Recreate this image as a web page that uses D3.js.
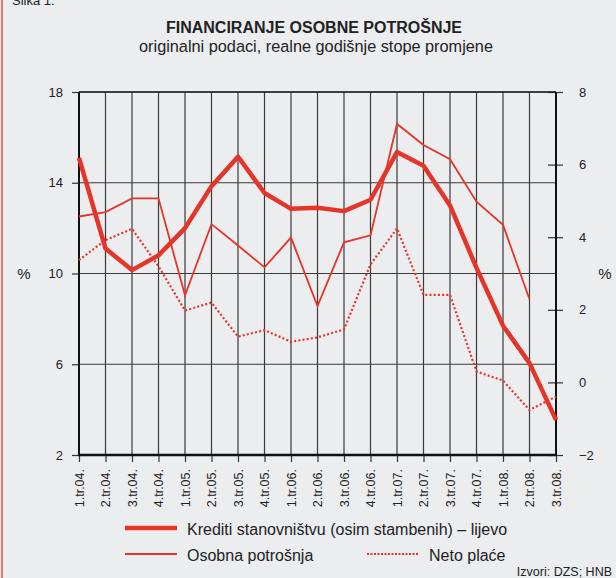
<!DOCTYPE html>
<html>
<head>
<meta charset="utf-8">
<title>Financiranje osobne potrošnje</title>
<style>
  body { margin: 0; background: #ecedef; }
  svg { display: block; font-family: "Liberation Sans", Arial, sans-serif; }
  .grid line { stroke: #3a3a3a; stroke-width: 1.2px; }
  .axis text { font-size: 13px; fill: #222; }
  .axis.xa text { font-size: 12.5px; }
  .axis path { display: none; }
  .axis line { stroke: #333; stroke-width: 1.2px; }
</style>
</head>
<body>
<svg width="616" height="578"></svg>
<script src="https://d3js.org/d3.v7.min.js"></script>
<script>

// kvartali
var categories = ["1.tr.04.", "2.tr.04.", "3.tr.04.", "4.tr.04.",
    "1.tr.05.", "2.tr.05.", "3.tr.05.", "4.tr.05.",
    "1.tr.06.", "2.tr.06.", "3.tr.06.", "4.tr.06.",
    "1.tr.07.", "2.tr.07.", "3.tr.07.", "4.tr.07.",
    "1.tr.08.", "2.tr.08.", "3.tr.08."];

// lijeva os
var krediti = [15.1, 11.1, 10.15, 10.8, 12.0, 13.85, 15.15, 13.55, 12.85, 12.9,
    12.75, 13.25, 15.35, 14.75, 13.0, 10.25, 7.7, 6.05, 3.55];

// desna os
var potrosnja = [4.57, 4.69, 5.07, 5.07, 2.4, 4.36, 3.77, 3.17, 3.99, 2.1,
    3.86, 4.05, 7.12, 6.54, 6.15, 4.98, 4.34, 2.29, null];
var place = [3.37, 3.92, 4.23, 3.2, 1.98, 2.2, 1.26, 1.44, 1.12, 1.24,
    1.46, 3.25, 4.24, 2.41, 2.41, 0.3, 0.05, -0.76, -0.39];

var leftTicks = [2, 6, 10, 14, 18];
var rightTicks = [-2, 0, 2, 4, 6, 8];

var red = "#e5352a";

var svg = d3.select("svg");
var pLeft = 79, pRight = 556, pTop = 92, pBottom = 455;

var x = d3.scalePoint().domain(categories).range([pLeft, pRight]);
var yL = d3.scaleLinear().domain([2, 18]).range([pBottom, pTop]);
var yR = d3.scaleLinear().domain([-2, 8]).range([pBottom, pTop]);

// rubovi
svg.append("line").attr("x1", 2).attr("x2", 2).attr("y1", 0).attr("y2", 578)
    .attr("stroke", "#e0503f").attr("stroke-width", 1.5);

svg.append("text").attr("x", 12).attr("y", 5).attr("font-size", 13).attr("fill", "#222")
    .text("Slika 1.");

// naslov
svg.append("text").attr("x", 314).attr("y", 33).attr("text-anchor", "middle")
    .attr("font-size", 16).attr("font-weight", "bold").attr("fill", "#222")
    .text("FINANCIRANJE OSOBNE POTROŠNJE");
svg.append("text").attr("x", 316).attr("y", 52).attr("text-anchor", "middle")
    .attr("font-size", 16.3).attr("fill", "#222")
    .text("originalni podaci, realne godišnje stope promjene");

// mreža
var grid = svg.append("g").attr("class", "grid");
grid.selectAll(".v").data(categories).enter().append("line")
    .attr("x1", function(d) { return x(d); }).attr("x2", function(d) { return x(d); })
    .attr("y1", pTop).attr("y2", pBottom);
grid.selectAll(".h").data(leftTicks).enter().append("line")
    .attr("x1", pLeft).attr("x2", pRight)
    .attr("y1", function(d) { return yL(d); }).attr("y2", function(d) { return yL(d); });

// osi
svg.append("g").attr("class", "axis")
    .attr("transform", "translate(" + pLeft + ",0)")
    .call(d3.axisLeft(yL).tickValues(leftTicks).tickSize(7).tickPadding(9));

svg.append("g").attr("class", "axis")
    .attr("transform", "translate(" + pRight + ",0)")
    .call(d3.axisRight(yR).tickValues(rightTicks).tickSize(7).tickPadding(16)
        .tickFormat(function(d) { return d < 0 ? "\u2212" + Math.abs(d) : d; }))
    .call(function(g) {
        g.selectAll(".tick line").attr("x1", -8);
    });

var xa = svg.append("g").attr("class", "axis xa")
    .attr("transform", "translate(0," + pBottom + ")")
    .call(d3.axisBottom(x).tickSize(7).tickPadding(4));
xa.selectAll("text")
    .attr("transform", "rotate(-90)")
    .attr("text-anchor", "end")
    .attr("x", -14).attr("y", 0).attr("dy", "0.35em");

// okvir
svg.append("line").attr("x1", pLeft).attr("x2", pRight).attr("y1", pTop).attr("y2", pTop)
    .attr("stroke", "#222").attr("stroke-width", 1.5);
svg.append("line").attr("x1", pLeft).attr("x2", pLeft).attr("y1", pTop).attr("y2", pBottom)
    .attr("stroke", "#111").attr("stroke-width", 2);
svg.append("line").attr("x1", pRight).attr("x2", pRight).attr("y1", pTop).attr("y2", pBottom)
    .attr("stroke", "#111").attr("stroke-width", 2);
svg.append("line").attr("x1", pLeft - 1).attr("x2", pRight + 1).attr("y1", pBottom).attr("y2", pBottom)
    .attr("stroke", "#111").attr("stroke-width", 2.5);

svg.append("text").attr("x", 24).attr("y", 279).attr("text-anchor", "middle")
    .attr("font-size", 15).attr("fill", "#222").text("%");
svg.append("text").attr("x", 605).attr("y", 279).attr("text-anchor", "middle")
    .attr("font-size", 15).attr("fill", "#222").text("%");

// linije
var lineL = d3.line()
    .defined(function(d) { return d != null; })
    .x(function(d, i) { return x(categories[i]); })
    .y(function(d) { return yL(d); });
var lineR = d3.line()
    .defined(function(d) { return d != null; })
    .x(function(d, i) { return x(categories[i]); })
    .y(function(d) { return yR(d); });

svg.append("path").datum(place).attr("d", lineR)
    .attr("fill", "none").attr("stroke", red).attr("stroke-width", 2.2)
    .attr("stroke-dasharray", "2,2.2");
svg.append("path").datum(potrosnja).attr("d", lineR)
    .attr("fill", "none").attr("stroke", red).attr("stroke-width", 1.8)
    .attr("stroke-linejoin", "miter");
svg.append("path").datum(krediti).attr("d", lineL)
    .attr("fill", "none").attr("stroke", red).attr("stroke-width", 4.5)
    .attr("stroke-linejoin", "round");

// legenda
var legend = [
    { name: "Krediti stanovništvu (osim stambenih) – lijevo", x: 125, y: 528, w: 4.5, dash: null },
    { name: "Osobna potrošnja", x: 125, y: 554, w: 1.8, dash: null },
    { name: "Neto plaće", x: 367, y: 554, w: 2, dash: "2,1.5" }
];
var lg = svg.append("g").selectAll("g").data(legend).enter().append("g");
lg.append("line")
    .attr("x1", function(d) { return d.x; }).attr("x2", function(d) { return d.x + 52; })
    .attr("y1", function(d) { return d.y; }).attr("y2", function(d) { return d.y; })
    .attr("stroke", red)
    .attr("stroke-width", function(d) { return d.w; })
    .attr("stroke-dasharray", function(d) { return d.dash; });
lg.append("text")
    .attr("x", function(d) { return d.x + 62; })
    .attr("y", function(d) { return d.y + 6.5; })
    .attr("font-size", 16).attr("fill", "#222")
    .text(function(d) { return d.name; });

svg.append("text").attr("x", 612).attr("y", 576).attr("text-anchor", "end")
    .attr("font-size", 12.5).attr("fill", "#222").text("Izvori: DZS; HNB");

</script>
</body>
</html>
